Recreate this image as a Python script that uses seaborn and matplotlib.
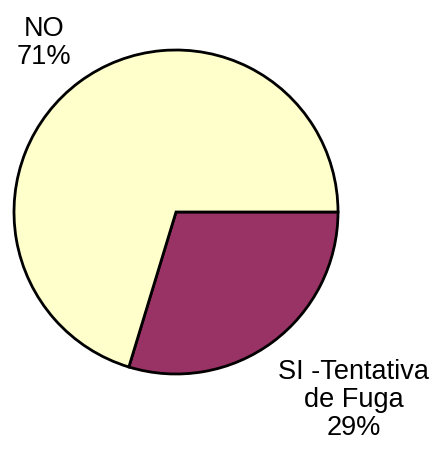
import matplotlib
matplotlib.use("Agg")
import matplotlib.pyplot as plt
import seaborn as sns

# Data
categories = ["SI -Tentativa\nde Fuga", "NO"]
shares = [29.7, 70.3]
pct_labels = ["29%", "71%"]
colors = ["#993366", "#FFFFCC"]

sns.set_theme(style="white")
plt.rcParams['font.family'] = ['Liberation Sans', 'DejaVu Sans']

fig = plt.figure(figsize=(4.34, 4.52), dpi=100)
# pie centre ~ (176, 213) px, radius ~162 px
ax = fig.add_axes([(176 - 162) / 434, (452 - 213 - 162) / 452, 324 / 434, 324 / 452])

ax.pie(shares, colors=colors, startangle=0, counterclock=False, radius=1,
       wedgeprops=dict(edgecolor="black", linewidth=2.0))
ax.set_xlim(-1, 1)
ax.set_ylim(-1, 1)
ax.set_aspect("equal")
ax.axis("off")

# labels
label_pos = [(1.098, -1.154), (-0.815, 1.05)]
for cat, pct, (x, y) in zip(categories, pct_labels, label_pos):
    ax.text(x, y, f"{cat}\n{pct}", ha="center", va="center", fontsize=19.5,
            linespacing=1.12, color="black")

fig.savefig("out.png", dpi=100)
